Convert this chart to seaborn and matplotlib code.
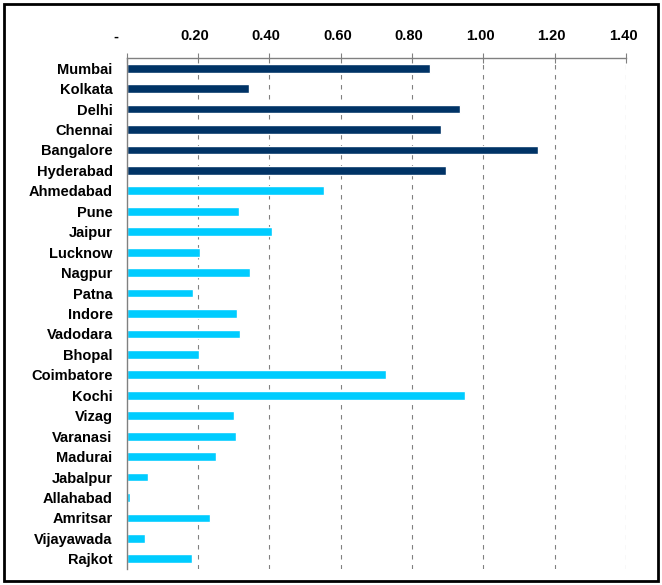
import matplotlib
matplotlib.use("Agg")
import matplotlib.pyplot as plt
import seaborn as sns
import pandas as pd
from matplotlib.patches import Rectangle
from matplotlib.ticker import FixedLocator
from matplotlib.transforms import ScaledTranslation

cities = ["Mumbai", "Kolkata", "Delhi", "Chennai", "Bangalore", "Hyderabad",
          "Ahmedabad", "Pune", "Jaipur", "Lucknow", "Nagpur", "Patna", "Indore",
          "Vadodara", "Bhopal", "Coimbatore", "Kochi", "Vizag", "Varanasi",
          "Madurai", "Jabalpur", "Allahabad", "Amritsar", "Vijayawada", "Rajkot"]
values = [0.851, 0.343, 0.935, 0.881, 1.153, 0.895,
          0.553, 0.314, 0.407, 0.206, 0.346, 0.186, 0.310,
          0.318, 0.203, 0.727, 0.949, 0.300, 0.307,
          0.250, 0.060, 0.010, 0.234, 0.052, 0.184]
groups = ["Tier 1"] * 6 + ["Tier 2"] * 19
tick_values = [0, 0.2, 0.4, 0.6, 0.8, 1.0, 1.2, 1.4]
tick_labels = ["-", "0.20", "0.40", "0.60", "0.80", "1.00", "1.20", "1.40"]

df = pd.DataFrame({"city": cities, "value": values, "group": groups})

sns.set_style("white")
plt.rcParams["font.family"] = ["Liberation Sans", "DejaVu Sans"]

fig = plt.figure(figsize=(6.62, 5.85), dpi=100)
ax = fig.add_axes([126.5 / 662, 1 - 569 / 585, (626 - 126.5) / 662, (569 - 58) / 585])

sns.barplot(data=df, x="value", y="city", hue="group",
            palette={"Tier 1": "#003366", "Tier 2": "#00CCFF"},
            dodge=False, width=0.43, legend=False, ax=ax, saturation=1)

ax.set_xlim(0, 1.4)
ax.set_ylim(len(cities) - 0.5, -0.5)
ax.xaxis.tick_top()
ax.set_xticks(tick_values)
ax.set_xticklabels(tick_labels, fontsize=10.5, fontweight="bold", color="black")
ax.tick_params(axis="x", which="major", direction="inout", length=7, width=0.8,
               color="#808080", pad=7)
for i, lab in enumerate(ax.get_xticklabels()):
    dx = -11 if i == 0 else -3
    lab.set_transform(lab.get_transform() + ScaledTranslation(dx / 100, 0, fig.dpi_scale_trans))
ax.set_yticks(range(len(cities)))
ax.set_yticklabels(cities, fontsize=10.5, fontweight="bold", color="black")
ax.tick_params(axis="y", which="major", length=0, pad=10)
ax.yaxis.set_minor_locator(FixedLocator([i - 0.5 for i in range(len(cities) + 1)]))
ax.tick_params(axis="y", which="minor", direction="out", length=4, width=0.8,
               color="#808080")
ax.set_xlabel("")
ax.set_ylabel("")

for x in tick_values[1:]:
    ax.axvline(x, color="#808080", linestyle=(0, (4, 5)), linewidth=0.8, zorder=0)

for side in ["right", "bottom"]:
    ax.spines[side].set_visible(False)
for side in ["top", "left"]:
    ax.spines[side].set_color("#808080")
    ax.spines[side].set_linewidth(1.0)

fig.patches.append(Rectangle((4 / 662, 4 / 585), 654 / 662, 577 / 585,
                             transform=fig.transFigure, fill=False,
                             edgecolor="black", linewidth=2))

fig.savefig("out.png", dpi=100)
